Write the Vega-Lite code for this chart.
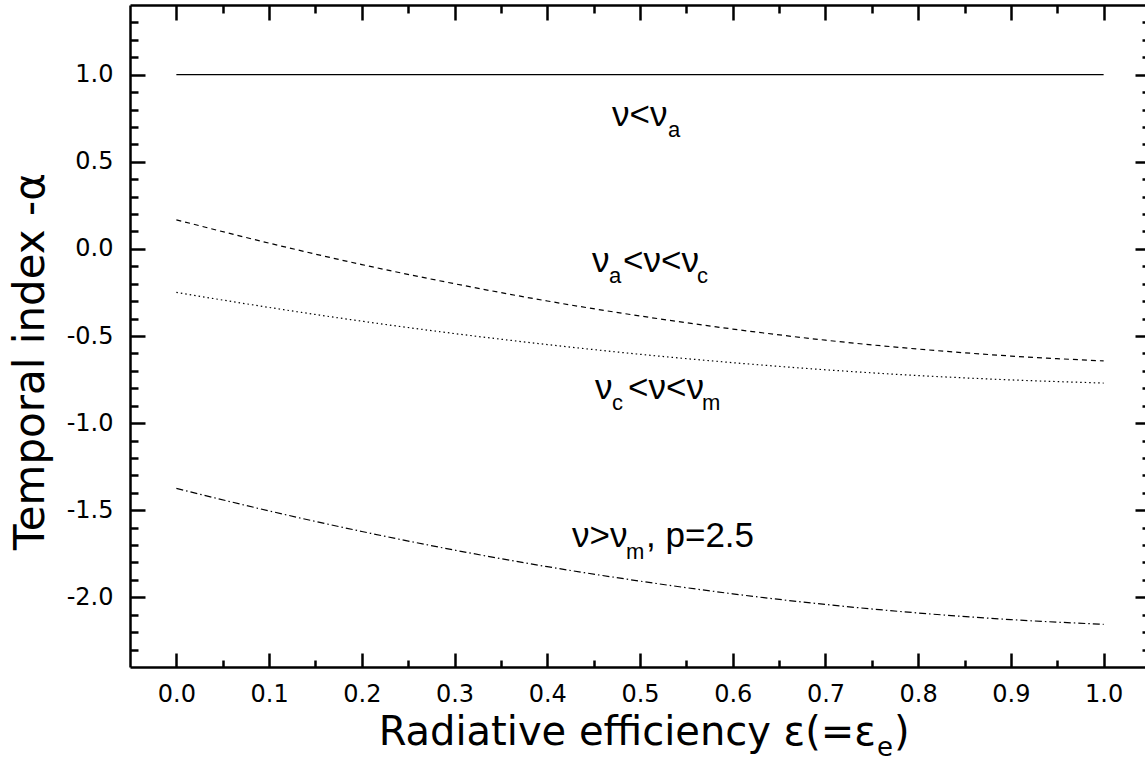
{
  "$schema": "https://vega.github.io/schema/vega-lite/v6.json",
  "width": 1020,
  "height": 662,
  "autosize": {"type": "none"},
  "padding": {"left": 130, "top": 5, "right": -5, "bottom": 111},
  "background": "white",
  "config": {"view": {"stroke": null}, "font": "DejaVu Sans"},
  "datasets": {
    "curves": [
      {"eps": 0.0, "v": 1.0, "series": "s1"},
      {"eps": 1.0, "v": 1.0, "series": "s1"},
      {"eps": 0.0, "v": 0.167, "series": "s2"},
      {"eps": 0.1, "v": 0.033, "series": "s2"},
      {"eps": 0.2, "v": -0.090, "series": "s2"},
      {"eps": 0.3, "v": -0.200, "series": "s2"},
      {"eps": 0.4, "v": -0.299, "series": "s2"},
      {"eps": 0.5, "v": -0.385, "series": "s2"},
      {"eps": 0.6, "v": -0.460, "series": "s2"},
      {"eps": 0.7, "v": -0.524, "series": "s2"},
      {"eps": 0.8, "v": -0.575, "series": "s2"},
      {"eps": 0.9, "v": -0.615, "series": "s2"},
      {"eps": 1.0, "v": -0.643, "series": "s2"},
      {"eps": 0.0, "v": -0.250, "series": "s3"},
      {"eps": 0.1, "v": -0.336, "series": "s3"},
      {"eps": 0.2, "v": -0.415, "series": "s3"},
      {"eps": 0.3, "v": -0.486, "series": "s3"},
      {"eps": 0.4, "v": -0.549, "series": "s3"},
      {"eps": 0.5, "v": -0.605, "series": "s3"},
      {"eps": 0.6, "v": -0.653, "series": "s3"},
      {"eps": 0.7, "v": -0.694, "series": "s3"},
      {"eps": 0.8, "v": -0.727, "series": "s3"},
      {"eps": 0.9, "v": -0.752, "series": "s3"},
      {"eps": 1.0, "v": -0.770, "series": "s3"},
      {"eps": 0.0, "v": -1.375, "series": "s4"},
      {"eps": 0.1, "v": -1.504, "series": "s4"},
      {"eps": 0.2, "v": -1.622, "series": "s4"},
      {"eps": 0.3, "v": -1.729, "series": "s4"},
      {"eps": 0.4, "v": -1.824, "series": "s4"},
      {"eps": 0.5, "v": -1.907, "series": "s4"},
      {"eps": 0.6, "v": -1.980, "series": "s4"},
      {"eps": 0.7, "v": -2.041, "series": "s4"},
      {"eps": 0.8, "v": -2.090, "series": "s4"},
      {"eps": 0.9, "v": -2.128, "series": "s4"},
      {"eps": 1.0, "v": -2.155, "series": "s4"}
    ],
    "labels": [
      {"t": "ν<ν", "x": 0.4698, "y": 0.7054},
      {"t": "ν", "x": 0.4482, "y": -0.1326},
      {"t": "<ν<ν", "x": 0.4817, "y": -0.1326},
      {"t": "ν", "x": 0.4515, "y": -0.8616},
      {"t": "<ν<ν", "x": 0.4871, "y": -0.8616},
      {"t": "ν>ν", "x": 0.4267, "y": -1.7112},
      {"t": ", p=2.5", "x": 0.5065, "y": -1.7112}
    ],
    "subs": [
      {"t": "a", "x": 0.5302, "y": 0.6423},
      {"t": "a", "x": 0.4666, "y": -0.1958},
      {"t": "c", "x": 0.5615, "y": -0.1958},
      {"t": "c", "x": 0.4698, "y": -0.9248},
      {"t": "m", "x": 0.5669, "y": -0.9248},
      {"t": "m", "x": 0.4849, "y": -1.780}
    ],
    "xtitle1": [
      {"t": "Radiative efficiency ε(=ε", "x": 0.7545, "y": -2.848}
    ],
    "xtitle2": [
      {"t": ")", "x": 0.7739, "y": -2.848}
    ],
    "xtitlesub": [
      {"t": "e", "x": 0.7556, "y": -2.911}
    ]
  },
  "resolve": {"axis": {"x": "independent", "y": "independent"}},
  "layer": [
    {
      "data": {"name": "curves"},
      "mark": {"type": "line", "strokeWidth": 1.2, "color": "black", "interpolate": "monotone"},
      "encoding": {
        "x": {
          "field": "eps", "type": "quantitative",
          "scale": {"domain": [-0.05, 1.05], "nice": false, "zero": false},
          "axis": {
            "orient": "bottom", "values": [0, 0.1, 0.2, 0.3, 0.4, 0.5, 0.6, 0.7, 0.8, 0.9, 1.0],
            "format": ".1f", "ticks": false, "tickSize": 0, "labelPadding": 15,
            "labelFontSize": 24, "labelFont": "DejaVu Sans", "labelColor": "black",
            "labelFlush": false, "labelOverlap": false,
            "domain": true, "domainWidth": 2.5, "domainColor": "black", "grid": false, "title": null
          }
        },
        "y": {
          "field": "v", "type": "quantitative",
          "scale": {"domain": [-2.4, 1.4], "nice": false, "zero": false},
          "axis": {
            "orient": "left", "values": [-2, -1.5, -1, -0.5, 0, 0.5, 1],
            "labelExpr": "replace(format(datum.value, '.1f'), '−', '-')",
            "ticks": false, "tickSize": 0, "labelPadding": 17,
            "labelFontSize": 24, "labelFont": "DejaVu Sans", "labelColor": "black",
            "labelFlush": false, "labelOverlap": false,
            "domain": true, "domainWidth": 2.5, "domainColor": "black", "grid": false,
            "title": "Temporal index -α", "titleFont": "DejaVu Sans", "titleFontSize": 42,
            "titleFontWeight": "normal", "titleColor": "black", "titleAngle": -90,
            "titleAlign": "center", "titleBaseline": "alphabetic", "titleX": -87, "titleY": 356
          }
        },
        "strokeDash": {
          "field": "series", "type": "nominal",
          "scale": {"domain": ["s1", "s2", "s3", "s4"], "range": [[1, 0], [5, 4], [1.5, 3], [7, 3, 1.5, 3]]},
          "legend": null
        }
      }
    },
    {
      "data": {"name": "curves"},
      "mark": {"type": "point", "opacity": 0},
      "encoding": {
        "x": {"field": "eps", "type": "quantitative", "axis": {
          "orient": "bottom", "values": [0, 0.1, 0.2, 0.3, 0.4, 0.5, 0.6, 0.7, 0.8, 0.9, 1.0],
          "labels": false, "domain": false, "grid": false, "ticks": true, "tickSize": -14,
          "tickWidth": 2.5, "tickColor": "black", "title": null}},
        "y": {"field": "v", "type": "quantitative", "axis": {
          "orient": "left", "values": [-2, -1.5, -1, -0.5, 0, 0.5, 1],
          "labels": false, "domain": false, "grid": false, "ticks": true, "tickSize": -15,
          "tickWidth": 2.5, "tickColor": "black", "title": null}}
      }
    },
    {
      "data": {"name": "curves"},
      "mark": {"type": "point", "opacity": 0},
      "encoding": {
        "x": {"field": "eps", "type": "quantitative", "axis": {
          "orient": "bottom", "values": [0.05, 0.15, 0.25, 0.35, 0.45, 0.55, 0.65, 0.75, 0.85, 0.95],
          "labels": false, "domain": false, "grid": false, "ticks": true, "tickSize": -7,
          "tickWidth": 2.5, "tickColor": "black", "title": null}},
        "y": {"field": "v", "type": "quantitative", "axis": {
          "orient": "left", "values": [-2.3, -2.2, -2.1, -1.9, -1.8, -1.7, -1.6, -1.4, -1.3, -1.2, -1.1, -0.9, -0.8, -0.7, -0.6, -0.4, -0.3, -0.2, -0.1, 0.1, 0.2, 0.3, 0.4, 0.6, 0.7, 0.8, 0.9, 1.1, 1.2, 1.3],
          "labels": false, "domain": false, "grid": false, "ticks": true, "tickSize": -8,
          "tickWidth": 2.5, "tickColor": "black", "title": null}}
      }
    },
    {
      "data": {"name": "curves"},
      "mark": {"type": "point", "opacity": 0},
      "encoding": {
        "x": {"field": "eps", "type": "quantitative", "axis": {
          "orient": "top", "values": [0, 0.1, 0.2, 0.3, 0.4, 0.5, 0.6, 0.7, 0.8, 0.9, 1.0],
          "labels": false, "domain": true, "domainWidth": 2.5, "domainColor": "black", "grid": false, "ticks": true, "tickSize": -15,
          "tickWidth": 2.5, "tickColor": "black", "title": null}},
        "y": {"field": "v", "type": "quantitative", "axis": {
          "orient": "right", "values": [-2, -1.5, -1, -0.5, 0, 0.5, 1],
          "labels": false, "domain": false, "grid": false, "ticks": true, "tickSize": -15,
          "tickWidth": 2.5, "tickColor": "black", "title": null}}
      }
    },
    {
      "data": {"name": "curves"},
      "mark": {"type": "point", "opacity": 0},
      "encoding": {
        "x": {"field": "eps", "type": "quantitative", "axis": {
          "orient": "top", "values": [0.05, 0.15, 0.25, 0.35, 0.45, 0.55, 0.65, 0.75, 0.85, 0.95],
          "labels": false, "domain": false, "grid": false, "ticks": true, "tickSize": -8,
          "tickWidth": 2.5, "tickColor": "black", "title": null}},
        "y": {"field": "v", "type": "quantitative", "axis": {
          "orient": "right", "values": [-2.3, -2.2, -2.1, -1.9, -1.8, -1.7, -1.6, -1.4, -1.3, -1.2, -1.1, -0.9, -0.8, -0.7, -0.6, -0.4, -0.3, -0.2, -0.1, 0.1, 0.2, 0.3, 0.4, 0.6, 0.7, 0.8, 0.9, 1.1, 1.2, 1.3],
          "labels": false, "domain": false, "grid": false, "ticks": true, "tickSize": -8,
          "tickWidth": 2.5, "tickColor": "black", "title": null}}
      }
    },
    {
      "data": {"name": "labels"},
      "mark": {"type": "text", "align": "left", "baseline": "alphabetic", "fontSize": 35, "font": "Liberation Sans", "color": "black"},
      "encoding": {
        "x": {"field": "x", "type": "quantitative", "axis": null},
        "y": {"field": "y", "type": "quantitative", "axis": null},
        "text": {"field": "t", "type": "nominal"}
      }
    },
    {
      "data": {"name": "subs"},
      "mark": {"type": "text", "align": "left", "baseline": "alphabetic", "fontSize": 22, "font": "Liberation Sans", "color": "black"},
      "encoding": {
        "x": {"field": "x", "type": "quantitative", "axis": null},
        "y": {"field": "y", "type": "quantitative", "axis": null},
        "text": {"field": "t", "type": "nominal"}
      }
    },
    {
      "data": {"name": "xtitle1"},
      "mark": {"type": "text", "align": "right", "baseline": "alphabetic", "fontSize": 40, "font": "DejaVu Sans", "color": "black"},
      "encoding": {
        "x": {"field": "x", "type": "quantitative", "axis": null},
        "y": {"field": "y", "type": "quantitative", "axis": null},
        "text": {"field": "t", "type": "nominal"}
      }
    },
    {
      "data": {"name": "xtitle2"},
      "mark": {"type": "text", "align": "left", "baseline": "alphabetic", "fontSize": 40, "font": "DejaVu Sans", "color": "black"},
      "encoding": {
        "x": {"field": "x", "type": "quantitative", "axis": null},
        "y": {"field": "y", "type": "quantitative", "axis": null},
        "text": {"field": "t", "type": "nominal"}
      }
    },
    {
      "data": {"name": "xtitlesub"},
      "mark": {"type": "text", "align": "left", "baseline": "alphabetic", "fontSize": 26, "font": "DejaVu Sans", "color": "black"},
      "encoding": {
        "x": {"field": "x", "type": "quantitative", "axis": null},
        "y": {"field": "y", "type": "quantitative", "axis": null},
        "text": {"field": "t", "type": "nominal"}
      }
    }
  ]
}
